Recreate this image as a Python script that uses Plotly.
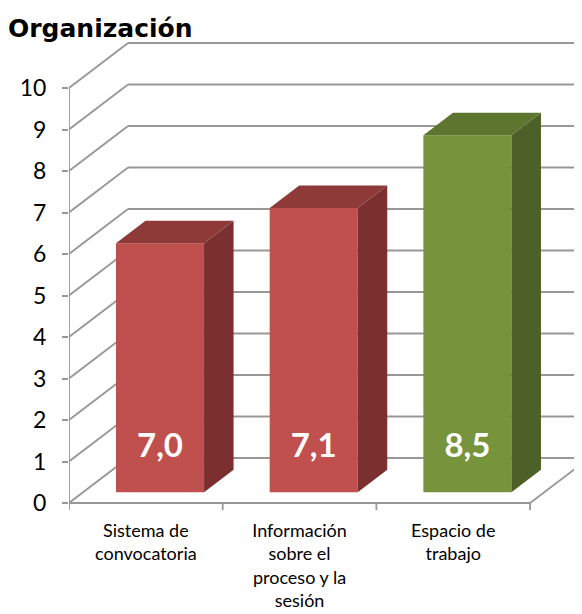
import plotly.graph_objects as go

# ---- data ----
categorias = ["Sistema de<br>convocatoria",
              "Información<br>sobre el<br>proceso y la<br>sesión",
              "Espacio de<br>trabajo"]
alturas = [6.0, 6.85, 8.6]          # bar heights as drawn against the axis
etiquetas = ["7,0", "7,1", "8,5"]   # printed values
ticks_y = [0, 1, 2, 3, 4, 5, 6, 7, 8, 9, 10]

# ---- styles ----
col_frente = ["#C0504D", "#C0504D", "#77933C"]
col_lado = ["#7B302F", "#7B302F", "#4D6027"]
col_techo = ["#8E3A38", "#8E3A38", "#5E7530"]
gris = "#979797"
fuente = "Lato"

# page body margin offset (browser default 8px)
OFF = 8
W, H = 582 - OFF, 614 - OFF

# pseudo-3D geometry (in axis units)
PX, PY = 0.384, 1.084     # depth vector of the back wall
F = 0.24                  # depth of the bar front faces
T = 0.5                   # bar depth
ANCHO = 0.573             # bar width

n = len(categorias)
fig = go.Figure()

shapes = []
for k in ticks_y:
    shapes.append(dict(type="line", xref="x", yref="y", layer="below",
                       x0=-0.5, y0=k, x1=-0.5 + PX, y1=k + PY,
                       line=dict(color=gris, width=1.8)))
    shapes.append(dict(type="line", xref="x", yref="y", layer="below",
                       x0=-0.5 + PX, y0=k + PY, x1=n - 0.5 + PX, y1=k + PY,
                       line=dict(color=gris, width=1.8)))
shapes.append(dict(type="line", xref="x", yref="y", layer="below",
                   x0=-0.5, y0=0, x1=-0.5, y1=ticks_y[-1],
                   line=dict(color=gris, width=1.8)))
shapes.append(dict(type="line", xref="x", yref="y", layer="below",
                   x0=-0.5, y0=0, x1=n - 0.5, y1=0,
                   line=dict(color=gris, width=1.8)))
shapes.append(dict(type="line", xref="x", yref="y", layer="below",
                   x0=n - 0.5, y0=0, x1=n - 0.5 + PX, y1=PY,
                   line=dict(color=gris, width=1.8)))
for i in range(n + 1):
    shapes.append(dict(type="line", xref="x", yref="y", layer="below",
                       x0=i - 0.5, y0=0, x1=i - 0.5, y1=-0.17,
                       line=dict(color=gris, width=1.8)))

for i, h in enumerate(alturas):
    xc = i + F * PX
    xl, xr = xc - ANCHO / 2, xc + ANCHO / 2
    b = F * PY
    top = b + h
    fig.add_trace(go.Scatter(
        x=[xr, xr + T * PX, xr + T * PX, xr, xr],
        y=[b, b + T * PY, top + T * PY, top, b],
        fill="toself", fillcolor=col_lado[i], mode="lines",
        line=dict(width=0, color=col_lado[i]), hoverinfo="skip", showlegend=False))
    fig.add_trace(go.Scatter(
        x=[xl, xr, xr + T * PX, xl + T * PX, xl],
        y=[top, top, top + T * PY, top + T * PY, top],
        fill="toself", fillcolor=col_techo[i], mode="lines",
        line=dict(width=0, color=col_techo[i]), hoverinfo="skip", showlegend=False))

fig.add_trace(go.Bar(
    x=[i + F * PX for i in range(n)], y=alturas, base=[F * PY] * n,
    width=ANCHO, marker=dict(color=col_frente, line=dict(width=0)),
    hoverinfo="skip", showlegend=False))

fig.add_trace(go.Scatter(
    x=[i + F * PX for i in range(n)], y=[F * PY + 1.04] * n,
    text=etiquetas, mode="text",
    textfont=dict(family=fuente, size=33, color="white", weight="bold"),
    hoverinfo="skip", showlegend=False, cliponaxis=False))

# axes geometry (reference pixels): x=-0.5 at px 69, 153.7 px/category;
# y=0 at px 503, 41.5 px/unit
top_px, bot_px = 30, 515
left_px = 69
fig.update_layout(
    width=W, height=H,
    margin=dict(l=left_px - OFF, r=0, t=top_px - OFF, b=614 - bot_px, pad=0),
    paper_bgcolor="white", plot_bgcolor="white",
    shapes=shapes,
    showlegend=False,
    title=dict(text="<b>Organización</b>", xref="container", yref="container",
               x=0, xanchor="left", y=1 - (28 - OFF) / H, yanchor="middle",
               font=dict(family="DejaVu Sans", size=25, color="black")),
    xaxis=dict(range=[-0.5, -0.5 + (582 - left_px) / 153.7],
               tickvals=list(range(n)), ticktext=categorias,
               ticks="", showgrid=False, zeroline=False, showline=False,
               automargin=False, ticklabelstandoff=3,
               tickfont=dict(family=fuente, size=18, color="black")),
    yaxis=dict(range=[-(bot_px - 503) / 41.5, (503 - top_px) / 41.5],
               tickvals=ticks_y, ticktext=[str(v) for v in ticks_y],
               ticks="outside", ticklen=6, tickwidth=1.8, tickcolor=gris,
               showgrid=False, zeroline=False, showline=False,
               automargin=False, ticklabelstandoff=11,
               tickfont=dict(family=fuente, size=23, color="black")),
)

fig.write_html("out.html")
